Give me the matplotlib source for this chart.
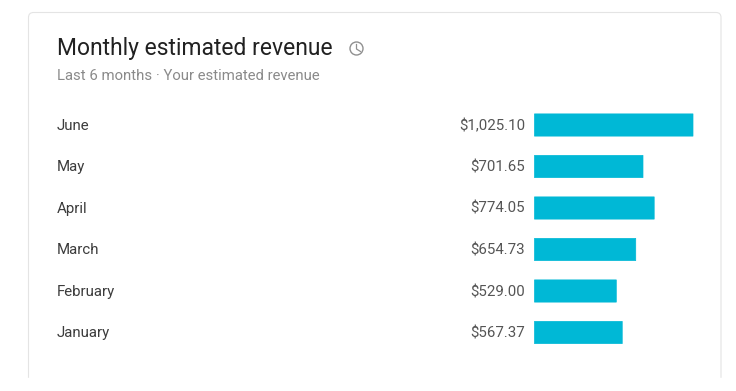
import matplotlib
matplotlib.use('Agg')
import matplotlib.pyplot as plt
from matplotlib.patches import Circle, FancyBboxPatch

plt.rcParams['font.family'] = ['Roboto', 'DejaVu Sans']

months = ['June', 'May', 'April', 'March', 'February', 'January']
revenue = [1025.10, 701.65, 774.05, 654.73, 529.00, 567.37]
revenue_labels = ['$1,025.10', '$701.65', '$774.05', '$654.73', '$529.00', '$567.37']

W, H = 736, 391
fig = plt.figure(figsize=(W / 100, H / 100), dpi=100, facecolor='white')

# background layer in pixel coords, for the card and the header
bg = fig.add_axes([0, 0, 1, 1])
bg.set_xlim(0, W)
bg.set_ylim(H, 0)
bg.axis('off')

card = FancyBboxPatch((28.5, 12.5), 692.5, 420, boxstyle='round,pad=0,rounding_size=5',
                      fc='white', ec='#e4e4e4', lw=0.8)
bg.add_patch(card)
# card gets cut off near the bottom of the screenshot
bg.axhspan(378, H, color='white', zorder=2)

bg.text(57, 48, 'Monthly estimated revenue', fontsize=16.5, color='#212121', va='center', ha='left')
bg.text(57, 75.5, 'Last 6 months · Your estimated revenue', fontsize=10.7, color='#8a8a8a',
        va='center', ha='left')

# clock icon
bg.add_patch(Circle((356.5, 48.5), 6.5, fc='none', ec='#909090', lw=1.0))
bg.plot([356.5, 356.5, 360.5], [44.5, 49, 51.5], color='#909090', lw=0.9)

ax = fig.add_axes([534.5 / W, 1 - 353.25 / H, (693 - 534.5) / W, (353.25 - 104.25) / H])
ax.patch.set_alpha(0)
# thin edge with round joins gives the slightly rounded bar corners
bars = ax.barh(range(len(months)), revenue, height=0.535, color='#00b8d6', edgecolor='#00b8d6',
               linewidth=0.5, joinstyle='round')
for b in bars:
    b.set_snap(False)
    b.set_clip_on(False)
ax.set_xlim(0, max(revenue))
ax.set_ylim(len(months) - 0.5, -0.5)
ax.axis('off')

for i, (m, lab) in enumerate(zip(months, revenue_labels)):
    y = 126 + i * 41.5
    bg.text(57, y, m, fontsize=10.8, color='#3c3c3c', va='center', ha='left')
    bg.text(525, y, lab, fontsize=10.8, color='#555555', va='center', ha='right')

fig.savefig('out.png', dpi=100, facecolor='white')
